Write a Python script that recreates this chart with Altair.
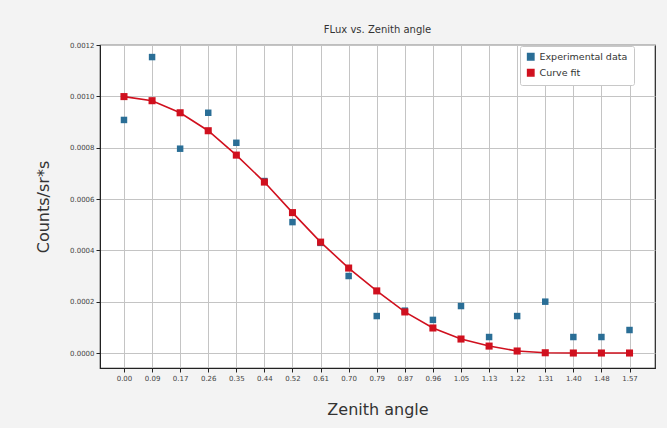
import altair as alt
import pandas as pd

angles = [0.0, 0.0873, 0.1745, 0.2618, 0.3491, 0.4363, 0.5236, 0.6109, 0.6981, 0.7854,
          0.8727, 0.9599, 1.0472, 1.1345, 1.2217, 1.3090, 1.3963, 1.4835, 1.5708]
experimental = [0.000908, 0.001153, 0.000796, 0.000936, 0.000819, 0.000670, 0.000510, 0.000429,
                0.000300, 0.000144, 0.000165, 0.000129, 0.000183, 0.0000623, 0.000144, 0.000200,
                0.0000623, 0.0000623, 0.0000896]
curve_fit = [0.000999, 0.000983, 0.000936, 0.000866, 0.000771, 0.000666, 0.000547, 0.000432,
             0.000331, 0.000242, 0.000160, 0.0000975, 0.0000545, 0.000027, 0.0000078, 0.000001,
             0.0, 0.0, 0.0]
y_ticks = [0.0, 0.0002, 0.0004, 0.0006, 0.0008, 0.0010, 0.0012]
series_names = ["Experimental data", "Curve fit"]

df = pd.DataFrame({
    "angle": angles * 2,
    "value": experimental + curve_fit,
    "series": [series_names[0]] * len(angles) + [series_names[1]] * len(angles),
})

color = alt.Color(
    "series:N",
    scale=alt.Scale(domain=series_names, range=["#2a6e96", "#d0101e"]),
    legend=alt.Legend(
        title=None, orient="none", legendX=420, legendY=1,
        symbolType="square", symbolSize=40, labelFontSize=9.5, labelColor="#333",
        fillColor="white", strokeColor="#c8c8c8", padding=6, cornerRadius=2,
        rowPadding=3, labelLimit=200,
    ),
)

x = alt.X(
    "angle:Q",
    scale=alt.Scale(domain=[-0.0745, 1.65], nice=False, zero=False),
    axis=alt.Axis(values=angles, format=".2f", title="Zenith angle",
                  titleFontSize=16, titleFontWeight="normal", titleColor="#333",
                  titlePadding=20, labelFontSize=7, labelColor="#444",
                  labelFlush=False, labelOverlap=False),
)
y = alt.Y(
    "value:Q",
    scale=alt.Scale(domain=[-0.0000584, 0.0012], nice=False, zero=False),
    axis=alt.Axis(values=y_ticks, format=".4f", title="Counts/sr*s",
                  titleFontSize=16, titleFontWeight="normal", titleColor="#333",
                  titlePadding=18, labelFontSize=7, labelColor="#444"),
)

points = alt.Chart(df).transform_filter(
    alt.datum.series == series_names[0]
).mark_square(size=42, opacity=1).encode(x=x, y=y, color=color)

line = alt.Chart(df).transform_filter(
    alt.datum.series == series_names[1]
).mark_line(strokeWidth=1.6).encode(x=x, y=y, color=color)

line_pts = alt.Chart(df).transform_filter(
    alt.datum.series == series_names[1]
).mark_square(size=50, opacity=1).encode(x=x, y=y, color=color)

chart = alt.layer(points, line, line_pts).properties(
    width=555, height=323,
    title=alt.Title("FLux vs. Zenith angle", fontSize=10, fontWeight="normal",
                    color="#333", offset=6),
    autosize=alt.AutoSizeParams(type="none"),
    padding={"left": 100, "top": 45, "right": 12, "bottom": 60},
    background="#f3f3f3",
).configure_view(
    fill="white", stroke="#222", strokeWidth=1.2
).configure_axis(
    grid=True, gridColor="#c4c4c4", gridWidth=1,
    domainColor="#222", tickColor="#222", tickSize=4,
    labelFont="DejaVu Sans", titleFont="DejaVu Sans",
).configure_title(font="DejaVu Sans").configure_legend(labelFont="DejaVu Sans")

chart.save("out.html", embed_options={"renderer": "svg", "actions": False})
